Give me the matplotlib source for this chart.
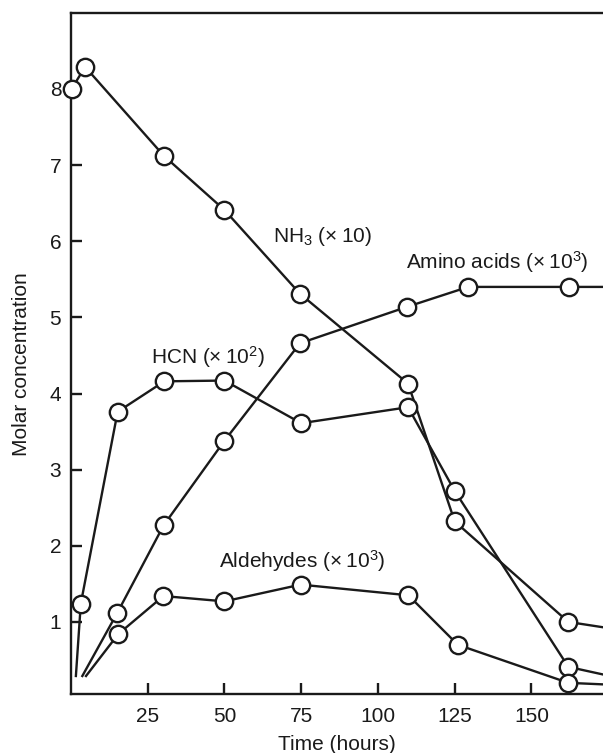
# Miller-type spark discharge: concentrations vs time

import matplotlib.pyplot as plt

plt.rcParams['font.family'] = ['Liberation Sans', 'DejaVu Sans']
plt.rcParams['mathtext.fontset'] = 'custom'
plt.rcParams['mathtext.rm'] = 'Liberation Sans'
plt.rcParams['mathtext.it'] = 'Liberation Sans:italic'
plt.rcParams['mathtext.bf'] = 'Liberation Sans:bold'

# data (first point of the last three series has no marker)
nh3_t = [0.2, 4.6, 30.3, 50, 74.6, 109.8, 125, 162, 173.3]
nh3_c = [8.0, 8.29, 7.12, 6.41, 5.31, 4.13, 2.32, 1.0, 0.93]

hcn_t = [1.6, 3.2, 15.2, 30.4, 50, 75, 109.8, 125, 162, 173.3]
hcn_c = [0.29, 1.24, 3.76, 4.16, 4.17, 3.61, 3.82, 2.72, 0.41, 0.31]

amino_t = [3.7, 15.1, 30.2, 50, 74.6, 109.6, 129.4, 162.2, 173.3]
amino_c = [0.29, 1.12, 2.27, 3.38, 4.66, 5.14, 5.40, 5.40, 5.40]

ald_t = [4.9, 15.4, 30.1, 50, 74.8, 109.9, 126, 162, 173.3]
ald_c = [0.29, 0.84, 1.34, 1.27, 1.49, 1.35, 0.70, 0.20, 0.18]

x_ticks = [25, 50, 75, 100, 125, 150]
y_ticks = [1, 2, 3, 4, 5, 6, 7, 8]

ink = '#1a1a1a'

fig = plt.figure(figsize=(6.03, 7.53), dpi=100)
ax = fig.add_axes([0.1177, 0.078, 0.8823, 0.905])

line_kw = dict(color=ink, lw=1.7, marker='o', ms=12.5, mfc='white',
               mec=ink, mew=1.7, zorder=3)

ax.plot(nh3_t, nh3_c, markevery=list(range(0, 8)), clip_on=False, **line_kw)
ax.plot(hcn_t, hcn_c, markevery=list(range(1, 9)), **line_kw)
ax.plot(amino_t, amino_c, markevery=list(range(1, 8)), **line_kw)
ax.plot(ald_t, ald_c, markevery=list(range(1, 8)), **line_kw)

ax.set_xlim(0, 173.3)
ax.set_ylim(0.05, 9.0)
ax.set_xticks(x_ticks)
ax.set_yticks(y_ticks)

ax.spines['right'].set_visible(False)
for s in ['left', 'top', 'bottom']:
    ax.spines[s].set_linewidth(1.7)
    ax.spines[s].set_color(ink)

ax.tick_params(direction='in', length=8, width=1.7, color=ink,
               labelsize=15, pad=7, labelcolor=ink)
ax.tick_params(axis='x', pad=9)

ax.set_xlabel('Time (hours)', fontsize=15, color=ink)
ax.set_ylabel('Molar concentration', fontsize=15, color=ink)
ax.xaxis.set_label_coords(0.5, -0.06)
ax.yaxis.set_label_coords(-0.075, 0.485)

tk = dict(fontsize=15, color=ink, ha='center', va='center')
ax.text(81.8, 6.06, 'NH$_3$ (\u00d7\u200910)', **tk)
ax.text(44.6, 4.48, 'HCN (\u00d7\u200910$^2$)', **tk)
ax.text(138.8, 5.73, 'Amino acids (\u00d7\u200910$^3$)', **tk)
ax.text(75.2, 1.80, 'Aldehydes (\u00d7\u200910$^3$)', **tk)

fig.savefig('out.png', dpi=100)
